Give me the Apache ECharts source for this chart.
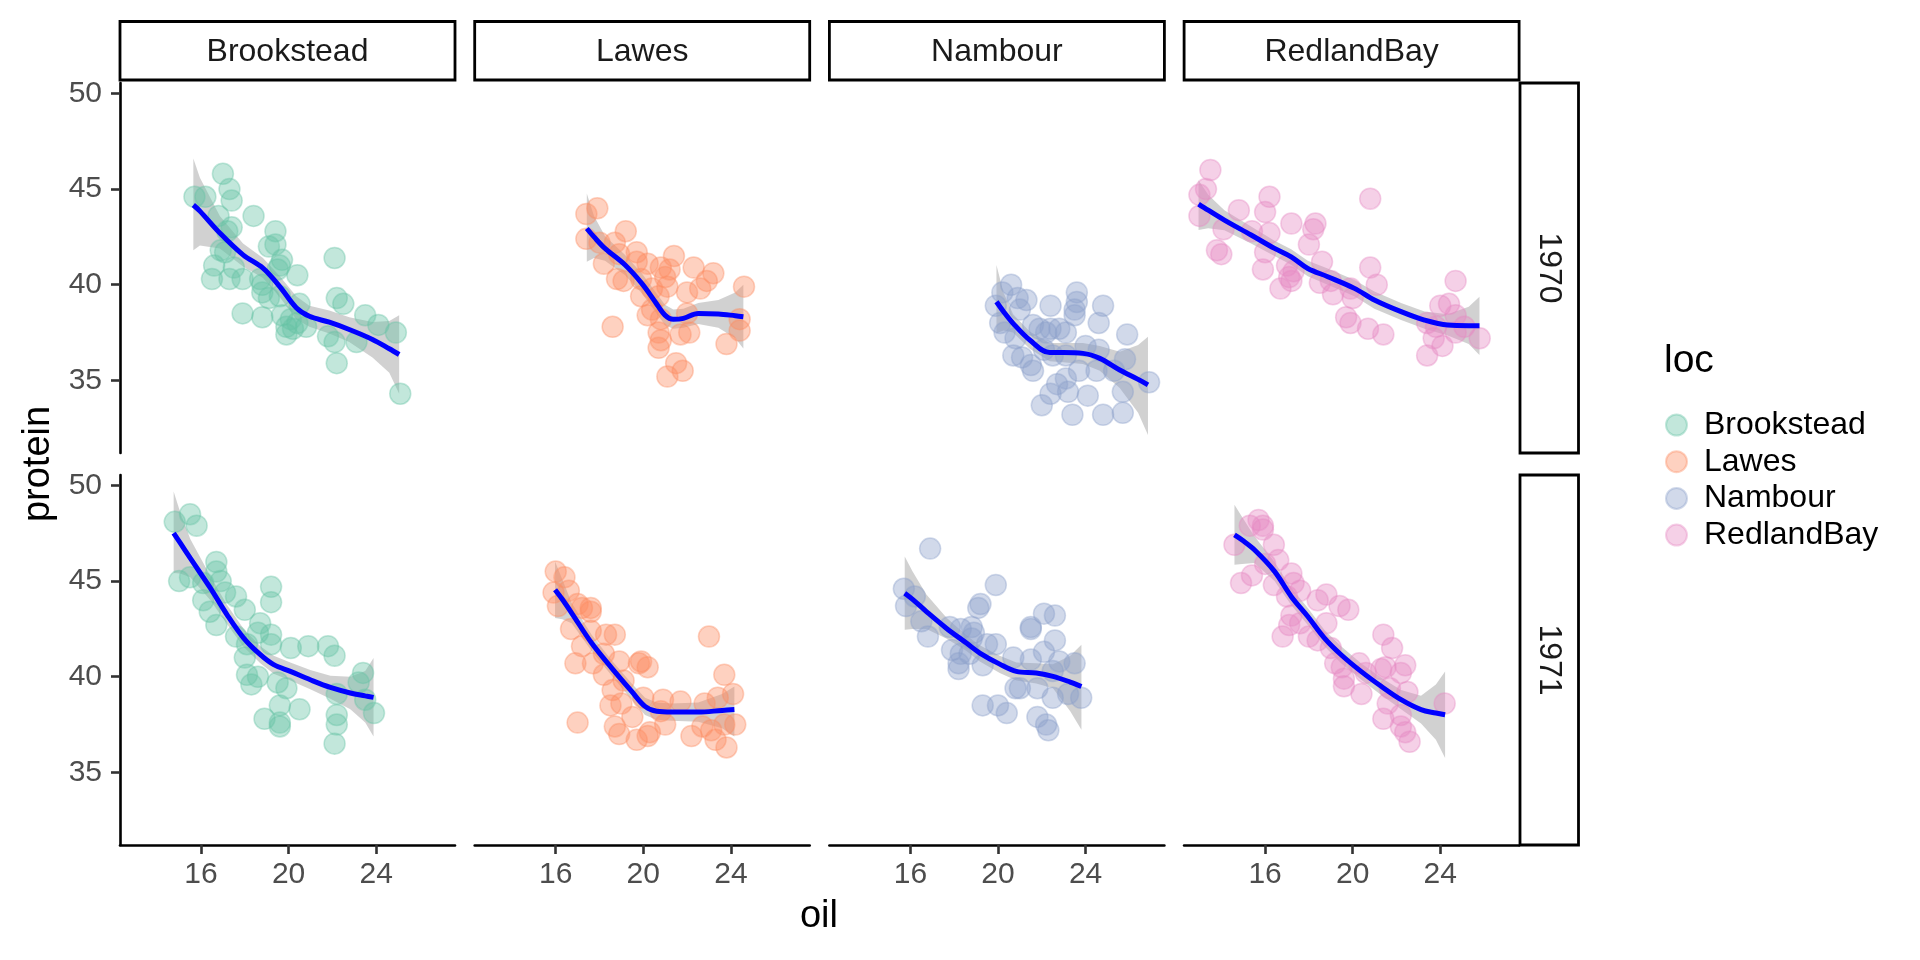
<!DOCTYPE html>
<html>
<head>
<meta charset="utf-8">
<script src="https://cdn.jsdelivr.net/npm/echarts@6/dist/echarts.min.js"></script>
<style>
html, body { margin: 0; padding: 0; background: #fff; }
#main { width: 1920px; height: 960px; }
</style>
</head>
<body>
<div id="main"></div>
<script>
// facets
var locations = ['Brookstead', 'Lawes', 'Nambour', 'RedlandBay'];
var years = ['1970', '1971'];
var oilTicks = [16, 20, 24];
var proteinTicks = [35, 40, 45, 50];

// points: [oil, protein]
var brookstead1970 = [[15.7,44.6],[16.2,44.6],[17.0,45.8],[17.3,45.0],[17.4,44.4],[16.8,43.6],[18.4,43.6],[17.4,43.0],[17.2,42.8],[19.4,42.8],[19.1,42.0],[19.4,42.1],[16.9,41.8],[17.1,41.7],[19.7,41.3],[16.6,41.0],[17.5,40.9],[19.6,41.0],[20.4,40.5],[16.5,40.3],[17.3,40.3],[17.9,40.3],[18.7,40.3],[18.8,39.6],[19.1,39.3],[19.6,39.4],[22.1,41.4],[22.2,39.3],[22.5,39.0],[20.5,39.0],[17.9,38.5],[18.8,38.3],[19.7,38.4],[20.1,38.2],[20.4,38.0],[20.8,37.8],[19.9,37.8],[20.2,37.7],[19.9,37.4],[21.8,37.3],[22.1,37.0],[23.1,37.0],[23.5,38.4],[24.1,37.9],[24.9,37.5],[22.2,35.9],[25.1,34.3],[18.8,40.0],[19.5,40.8]];
var lawes1970 = [[17.4,43.7],[17.9,44.0],[17.4,42.4],[19.2,42.8],[18.0,42.2],[18.7,42.2],[18.2,41.1],[18.9,41.6],[19.7,41.7],[19.7,41.2],[20.2,41.1],[21.4,41.5],[20.8,40.9],[21.2,40.8],[21.0,40.4],[21.1,39.9],[22.3,40.9],[23.2,40.6],[22.9,40.2],[22.6,39.8],[22.0,39.6],[24.6,39.9],[18.8,40.3],[19.1,40.2],[19.9,40.3],[20.4,39.8],[19.9,39.4],[20.7,39.4],[20.2,38.4],[20.8,38.2],[22.0,38.5],[18.6,37.8],[20.7,37.5],[21.7,37.4],[22.1,37.5],[24.4,38.2],[24.4,37.6],[23.8,36.9],[20.7,36.7],[21.5,35.9],[21.8,35.5],[21.1,35.2],[20.8,37.1],[20.4,38.7]];
var nambour1970 = [[20.2,39.6],[20.6,40.0],[20.9,39.3],[21.3,39.2],[19.9,38.9],[21.0,38.7],[22.4,38.9],[23.6,39.6],[23.6,39.1],[23.5,38.7],[23.5,38.4],[24.8,38.9],[20.1,38.0],[20.3,37.5],[20.8,37.2],[21.6,37.9],[21.9,37.7],[22.4,37.7],[22.8,37.7],[23.1,37.5],[24.6,38.0],[25.9,37.4],[20.7,36.3],[21.1,36.2],[21.5,35.8],[21.6,35.5],[22.1,36.6],[22.5,36.3],[23.1,36.3],[24.0,36.8],[24.6,36.6],[25.8,36.1],[23.7,35.5],[24.5,35.5],[25.3,35.5],[26.9,34.9],[23.1,35.1],[22.7,34.8],[23.2,34.4],[22.4,34.3],[24.1,34.2],[25.7,34.4],[22.0,33.7],[23.4,33.2],[24.8,33.2],[25.7,33.3],[22.2,37.5]];
var redlandBay1970 = [[13.5,46.0],[13.3,45.0],[13.0,44.7],[13.0,43.6],[14.8,43.9],[16.2,44.6],[16.0,43.8],[14.1,42.9],[15.4,42.8],[16.2,42.7],[17.2,43.2],[18.3,43.2],[18.2,42.9],[18.0,42.1],[13.8,41.8],[14.0,41.6],[16.0,41.7],[15.9,40.8],[17.0,41.0],[17.3,40.7],[17.2,40.2],[16.7,39.8],[18.6,41.2],[18.5,40.1],[19.1,39.5],[19.0,40.2],[19.9,39.8],[20.0,39.3],[20.8,44.5],[20.8,40.9],[21.1,40.0],[19.7,38.3],[19.9,38.0],[20.7,37.7],[21.4,37.4],[24.7,40.2],[24.0,38.9],[24.4,39.0],[23.4,38.0],[23.8,37.8],[24.7,38.4],[25.1,37.8],[24.7,37.5],[25.8,37.2],[23.7,37.2],[24.1,36.8],[23.4,36.3],[17.1,40.4]];
var brookstead1971 = [[14.8,48.1],[15.5,48.5],[15.8,47.9],[15.0,45.0],[15.5,45.2],[16.7,46.0],[16.7,45.5],[16.9,45.0],[16.1,44.9],[17.1,44.4],[17.6,44.2],[16.1,44.0],[16.4,43.4],[16.7,42.7],[18.0,43.5],[19.2,44.7],[19.2,43.9],[17.6,42.1],[18.7,42.8],[19.2,42.2],[19.2,41.7],[18.1,41.7],[20.1,41.5],[20.9,41.6],[21.8,41.6],[22.1,41.1],[18.0,41.0],[18.1,40.1],[18.6,40.0],[18.3,39.6],[19.5,39.7],[19.9,39.4],[19.6,38.5],[20.5,38.3],[18.9,37.8],[19.6,37.6],[19.6,37.4],[22.2,38.0],[22.2,37.5],[22.1,36.5],[23.4,40.2],[23.2,39.7],[23.5,38.8],[23.9,38.1],[22.2,39.1],[18.6,42.3]];
var lawes1971 = [[16.0,45.5],[16.4,45.2],[15.9,44.4],[16.6,44.5],[16.1,43.7],[17.0,43.8],[17.2,43.6],[17.6,43.6],[17.6,43.4],[16.7,42.5],[17.6,42.4],[18.3,42.2],[18.7,42.2],[17.2,41.6],[16.9,40.7],[17.7,40.7],[18.2,41.2],[18.9,40.8],[18.2,40.1],[19.8,40.7],[20.2,40.5],[19.9,40.8],[19.1,39.8],[18.6,39.3],[18.5,38.5],[19.0,38.6],[19.5,37.9],[20.0,38.9],[20.9,38.8],[21.7,38.7],[20.8,38.2],[22.8,38.6],[23.4,38.9],[24.1,39.1],[23.7,40.1],[23.0,42.1],[17.0,37.6],[18.7,37.4],[18.9,37.0],[19.7,36.7],[20.3,37.1],[20.2,36.9],[21.0,37.5],[22.2,36.9],[22.7,37.4],[23.1,37.2],[23.7,37.5],[24.2,37.5],[23.3,36.7],[23.8,36.3]];
var nambour1971 = [[16.9,46.7],[15.7,44.6],[15.8,43.7],[16.2,44.2],[16.5,42.9],[16.8,42.1],[19.9,44.8],[19.2,43.8],[19.1,43.6],[17.8,42.6],[18.3,42.5],[18.8,42.6],[18.9,42.3],[17.9,41.4],[18.3,41.2],[18.2,40.7],[18.2,40.4],[18.7,41.2],[19.3,40.6],[19.5,41.7],[19.9,41.7],[20.7,41.0],[21.5,40.9],[21.5,42.5],[21.5,42.6],[22.1,43.3],[22.6,43.2],[22.6,41.9],[22.1,41.3],[22.8,40.8],[23.5,40.7],[22.5,40.3],[20.8,39.4],[21.0,39.4],[21.8,39.4],[22.5,38.9],[23.2,39.1],[23.8,38.9],[19.3,38.5],[20.0,38.5],[20.4,38.1],[21.8,37.9],[22.2,37.5],[22.3,37.2],[18.8,42.0]];
var redlandBay1971 = [[14.6,46.9],[15.3,47.9],[15.7,48.2],[15.9,47.9],[15.9,47.7],[16.4,46.9],[16.6,46.1],[15.4,45.3],[14.9,44.9],[16.0,45.9],[16.4,44.8],[17.2,45.4],[17.3,44.9],[17.6,44.5],[17.0,44.2],[18.4,44.0],[18.8,44.3],[19.4,43.7],[19.8,43.5],[17.2,43.2],[17.6,42.8],[17.1,42.7],[18.8,42.8],[16.8,42.1],[18.0,42.1],[18.4,41.9],[19.0,41.5],[19.2,40.7],[19.5,40.5],[19.6,39.9],[19.6,39.5],[20.4,39.1],[20.3,40.7],[21.4,42.2],[21.8,41.5],[21.3,40.4],[21.5,40.5],[22.4,40.6],[22.2,40.2],[21.7,39.4],[22.5,39.2],[21.6,38.6],[21.4,37.8],[22.2,38.0],[22.2,37.4],[22.4,37.1],[22.6,36.6],[24.2,38.6],[20.6,40.2]];

// loess fit: [oil, fit, lower, upper]
var brookstead1970Fit = [[15.65,44.17,41.8,46.6],[15.95,43.85,42.05,45.6],[16.86,42.7,41.9,43.6],[17.92,41.56,40.95,42.15],[18.83,40.87,40.35,41.4],[19.6,39.9,39.35,40.45],[20.35,38.8,38.2,39.4],[20.95,38.35,37.8,38.9],[21.86,38.04,37.45,38.65],[22.77,37.66,37.0,38.3],[23.83,37.14,36.2,38.05],[24.6,36.65,35.4,38.1],[25.05,36.35,34.3,38.4]];
var lawes1970Fit = [[17.42,42.94,41.2,44.77],[17.75,42.5,41.4,43.6],[18.25,41.9,41.25,42.55],[19.17,41.03,40.5,41.55],[19.93,40.07,39.55,40.6],[20.54,39.11,38.6,39.65],[20.99,38.41,37.9,38.95],[21.37,38.19,37.7,38.7],[21.83,38.24,37.75,38.75],[22.51,38.5,37.95,39.05],[23.43,38.47,37.75,39.2],[24.2,38.38,37.2,39.6],[24.57,38.33,36.67,40.0]];
var nambour1970Fit = [[19.93,39.11,37.46,41.03],[20.25,38.6,37.6,39.6],[20.69,37.98,37.5,38.45],[21.45,37.11,36.65,37.55],[22.36,36.45,36.0,36.95],[22.97,36.45,35.95,36.95],[23.88,36.41,35.85,36.95],[24.65,36.15,35.5,36.8],[25.56,35.54,34.6,36.5],[26.4,35.05,33.3,36.85],[26.85,34.76,32.14,37.28]];
var redlandBay1970Fit = [[12.96,44.22,42.86,45.47],[13.4,43.9,42.95,44.7],[14.14,43.38,42.85,43.9],[15.36,42.6,42.15,43.05],[16.43,41.9,41.5,42.3],[17.19,41.46,41.05,41.85],[17.95,40.85,40.45,41.25],[18.86,40.42,40.0,40.85],[20.08,39.81,39.4,40.25],[20.99,39.2,38.75,39.65],[22.21,38.59,38.15,39.05],[23.28,38.15,37.7,38.6],[24.34,37.89,37.35,38.45],[25.3,37.86,36.9,38.85],[25.79,37.86,36.32,39.37]];
var brookstead1971Fit = [[14.75,47.51,45.42,49.69],[15.05,47.0,45.4,48.6],[15.51,46.2,45.2,47.2],[16.43,44.63,44.0,45.25],[17.19,43.24,42.75,43.75],[17.95,42.02,41.55,42.5],[18.71,41.15,40.7,41.6],[19.32,40.63,40.15,41.1],[20.08,40.28,39.8,40.75],[20.99,39.84,39.35,40.35],[21.91,39.44,38.85,40.05],[22.82,39.15,38.3,40.0],[23.5,39.0,37.6,40.3],[23.88,38.92,36.88,40.98]];
var lawes1971Fit = [[15.97,44.55,43.07,46.03],[16.3,44.05,43.0,45.1],[16.73,43.33,42.8,43.85],[17.64,41.76,41.35,42.2],[18.56,40.45,40.05,40.85],[19.47,39.23,38.8,39.65],[20.08,38.45,38.0,38.9],[20.61,38.19,37.75,38.65],[21.3,38.15,37.7,38.6],[22.51,38.15,37.65,38.65],[23.6,38.24,37.3,39.1],[24.16,38.28,36.88,39.49]];
var nambour1971Fit = [[15.74,44.37,42.46,46.29],[16.1,44.05,42.5,45.5],[16.73,43.41,42.5,44.3],[17.64,42.54,42.0,43.1],[18.56,41.76,41.35,42.15],[19.17,41.24,40.8,41.65],[20.08,40.66,40.2,41.1],[20.84,40.28,39.8,40.75],[21.75,40.19,39.65,40.7],[22.51,40.02,39.4,40.65],[23.3,39.72,38.2,41.1],[23.81,39.49,37.23,41.67]];
var redlandBay1971Fit = [[14.6,47.42,45.85,48.99],[14.95,47.15,45.9,48.35],[15.51,46.64,45.95,47.35],[16.43,45.51,45.0,46.0],[17.19,44.2,43.75,44.65],[17.95,43.15,42.7,43.6],[18.71,42.02,41.6,42.45],[19.47,41.15,40.7,41.6],[20.38,40.28,39.85,40.7],[21.3,39.5,39.05,39.95],[22.21,38.8,38.3,39.3],[23.12,38.28,37.55,39.0],[23.8,38.1,36.7,39.6],[24.22,38.01,35.75,40.28]];

var pointsByPanel = [
    [brookstead1970, lawes1970, nambour1970, redlandBay1970],
    [brookstead1971, lawes1971, nambour1971, redlandBay1971]
];
var fitsByPanel = [
    [brookstead1970Fit, lawes1970Fit, nambour1970Fit, redlandBay1970Fit],
    [brookstead1971Fit, lawes1971Fit, nambour1971Fit, redlandBay1971Fit]
];

// Set2 with alpha 0.5
var locColors = ['rgba(102,194,165,0.5)', 'rgba(252,141,98,0.5)', 'rgba(141,160,203,0.5)', 'rgba(231,138,195,0.5)'];
var FONT = '"Liberation Sans", Arial, sans-serif';

var panelLeft = [120, 474.7, 829.4, 1184.1];
var panelTop = [83, 475];
var panelW = 335, panelH = 370;

var myChart = echarts.init(document.getElementById('main'));

var grids = [], xAxes = [], yAxes = [], series = [], graphics = [];

for (var r = 0; r < 2; r++) {
    for (var c = 0; c < 4; c++) {
        var idx = r * 4 + c;
        grids.push({left: panelLeft[c], top: panelTop[r], width: panelW, height: panelH});
        xAxes.push({
            type: 'value', gridIndex: idx, min: 12.3, max: 27.6,
            axisLine: {show: r === 1, onZero: false, lineStyle: {color: '#000', width: 2.6}},
            axisTick: {show: r === 1, length: 9, customValues: oilTicks, lineStyle: {color: '#333', width: 2.6}},
            axisLabel: {show: r === 1, customValues: oilTicks, margin: 15, fontSize: 30, color: '#4D4D4D', fontFamily: FONT},
            splitLine: {show: false}
        });
        yAxes.push({
            type: 'value', gridIndex: idx, min: 31.2, max: 50.55,
            axisLine: {show: c === 0, onZero: false, lineStyle: {color: '#000', width: 2.6}},
            axisTick: {show: c === 0, length: 9, customValues: proteinTicks, lineStyle: {color: '#333', width: 2.6}},
            axisLabel: {show: c === 0, customValues: proteinTicks, margin: 18, fontSize: 30, color: '#4D4D4D', fontFamily: FONT},
            splitLine: {show: false}
        });

        series.push({
            type: 'scatter', name: locations[c], xAxisIndex: idx, yAxisIndex: idx,
            data: pointsByPanel[r][c], symbolSize: 21, silent: true,
            itemStyle: {color: locColors[c], borderColor: locColors[c], borderWidth: 1.5}
        });

        (function (fit) {
            series.push({
                type: 'custom', name: 'se', xAxisIndex: idx, yAxisIndex: idx,
                data: fit, encode: {x: 0, y: [1, 2, 3]}, silent: true,
                renderItem: function (params, api) {
                    if (params.dataIndex !== 0) return;
                    var pts = [];
                    for (var i = 0; i < fit.length; i++) pts.push(api.coord([fit[i][0], fit[i][3]]));
                    for (var j = fit.length - 1; j >= 0; j--) pts.push(api.coord([fit[j][0], fit[j][2]]));
                    return {type: 'polygon', shape: {points: pts}, style: {fill: 'rgba(153,153,153,0.45)'}};
                }
            });
            series.push({
                type: 'line', name: 'loess', xAxisIndex: idx, yAxisIndex: idx,
                data: fit.map(function (f) { return [f[0], f[1]]; }),
                smooth: 0.35, showSymbol: false, silent: true,
                lineStyle: {color: '#0000FF', width: 5}
            });
        })(fitsByPanel[r][c]);
    }
}

// top strips
for (var c2 = 0; c2 < 4; c2++) {
    graphics.push({
        type: 'rect', shape: {x: panelLeft[c2], y: 21.5, width: panelW, height: 58.5},
        style: {fill: '#fff', stroke: '#000', lineWidth: 2.8}
    });
    graphics.push({
        type: 'text', x: panelLeft[c2] + panelW / 2, y: 52,
        style: {text: locations[c2], fontSize: 32, fontFamily: FONT, fill: '#1A1A1A', align: 'center', verticalAlign: 'middle'}
    });
}
// right strips
for (var r2 = 0; r2 < 2; r2++) {
    graphics.push({
        type: 'rect', shape: {x: 1520, y: panelTop[r2], width: 58.5, height: panelH},
        style: {fill: '#fff', stroke: '#000', lineWidth: 2.8}
    });
    graphics.push({
        type: 'text', x: 1549, y: panelTop[r2] + panelH / 2, rotation: -Math.PI / 2,
        style: {text: years[r2], fontSize: 32, fontFamily: FONT, fill: '#1A1A1A', align: 'center', verticalAlign: 'middle'}
    });
}
// axis titles and legend title
graphics.push({
    type: 'text', x: 39, y: 464, rotation: Math.PI / 2,
    style: {text: 'protein', fontSize: 38, fontFamily: FONT, fill: '#000', align: 'center', verticalAlign: 'middle'}
});
graphics.push({
    type: 'text', x: 819, y: 917,
    style: {text: 'oil', fontSize: 38, fontFamily: FONT, fill: '#000', align: 'center', verticalAlign: 'middle'}
});
graphics.push({
    type: 'text', x: 1664, y: 361,
    style: {text: 'loc', fontSize: 39, fontFamily: FONT, fill: '#000', align: 'left', verticalAlign: 'middle'}
});

option = {
    animation: false,
    backgroundColor: '#fff',
    grid: grids,
    xAxis: xAxes,
    yAxis: yAxes,
    legend: {
        data: locations.map(function (n) { return {name: n, icon: 'circle'}; }),
        orient: 'vertical', left: 1660, top: 404,
        itemWidth: 21, itemHeight: 21, itemGap: 4.7, selectedMode: false,
        textStyle: {fontSize: 32, lineHeight: 32, color: '#000', fontFamily: FONT, padding: [0, 0, 0, 12]}
    },
    graphic: graphics,
    series: series
};

myChart.setOption(option);
</script>
</body>
</html>
